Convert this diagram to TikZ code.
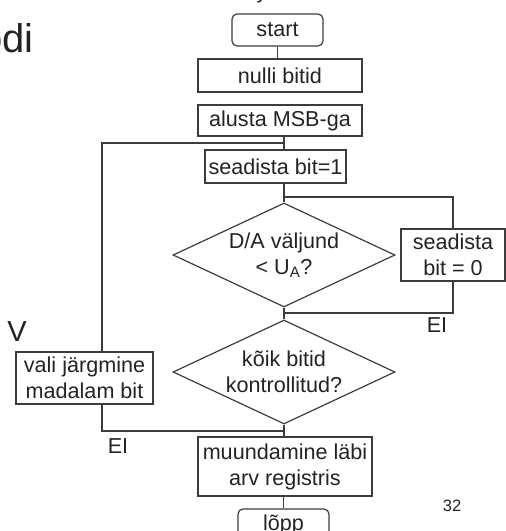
\documentclass[tikz,border=0pt]{standalone}
\usepackage{fontspec}
\setmainfont{Liberation Sans}
\usetikzlibrary{shapes.geometric}
\definecolor{linec}{RGB}{60,60,60}
\definecolor{textc}{RGB}{35,35,35}
\begin{document}
\begin{tikzpicture}[x=1pt,y=-1pt,
  every node/.style={text=textc, font=\fontsize{21.6}{26}\selectfont, inner sep=0pt},
  box/.style={draw=linec, line width=1.2pt, rectangle, align=center},
  term/.style={box, rounded corners=5pt},
  dec/.style={draw=linec, line width=1.2pt, diamond, shape aspect=2.13, align=center},
  conn/.style={draw=linec, line width=1.2pt}
]
\useasboundingbox (0,0) rectangle (506,531);
\clip (0,0) rectangle (506,531);
\node[term, minimum width=91pt, minimum height=32pt] (start) at (277.5,30) {start};
\node[box, minimum width=164pt, minimum height=33pt] (nulli) at (280,75.5) {nulli bitid};
\node[box, minimum width=164pt, minimum height=31pt] (alusta) at (280,120.5) {alusta MSB-ga};
\node[box, minimum width=141pt, minimum height=33pt] (set1) at (275.5,166.5) {seadista bit=1};
\node[dec, minimum width=222pt, minimum height=104pt] (d1) at (284,255) {D/A väljund\\< U\textsubscript{A}?};
\node[box, minimum width=104pt, minimum height=52pt] (set0) at (453,255) {seadista\\bit = 0};
\node[dec, minimum width=222pt, minimum height=104pt] (d2) at (284,372) {kõik bitid\\kontrollitud?};
\node[box, minimum width=137pt, minimum height=52pt] (vali) at (84.5,378) {vali järgmine\\madalam bit};
\node[box, minimum width=174pt, minimum height=59pt] (muund) at (285,466.5) {muundamine läbi\\arv registris};
\node[term, minimum width=91pt, minimum height=32pt] (lopp) at (283.5,525) {lõpp};
\coordinate (j1) at (284,143);
\coordinate (j2) at (284,197);
\coordinate (j3) at (284,313);
\coordinate (j4) at (284,431);
\coordinate (vl) at (102,0);
\draw[conn] (start.south) -- (start.south |- nulli.north);
\draw[conn] (alusta.south -| j1) -- (set1.north -| j1);
\draw[conn] (vali.north -| vl) |- (j1);
\draw[conn] (set1.south -| j2) -- (d1.north);
\draw[conn] (j2) -| (set0.north);
\draw[conn] (d1.south) -- (d2.north);
\draw[conn] (set0.south) |- (j3);
\draw[conn] (d2.south) -- (muund.north -| d2.south);
\draw[conn] (vali.south -| vl) |- (j4);
\draw[conn] (muund.south -| lopp.north) -- (lopp.north);
\node (ei1) at (437,325) {EI};
\node (ei2) at (118,446) {EI};
\node[font=\fontsize{29}{34}\selectfont] (v) at (17,332) {V};
\node[font=\fontsize{16.5}{20}\selectfont] (pg) at (452,506) {32};
\node[font=\fontsize{40}{48}\selectfont, anchor=base east] (title) at (34,52) {odi};
\node[anchor=base] (topfrag) at (262,-2) {y};
\end{tikzpicture}
\end{document}
